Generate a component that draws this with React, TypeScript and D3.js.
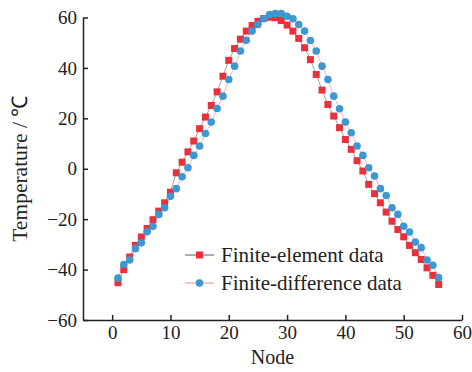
import * as d3 from 'd3';
import * as React from 'react';

const nodes = d3.range(1, 57);

const feData = [
  -45.2, -40, -35, -30.4, -27.1, -23.7, -20.2, -16.8, -13.5, -9.3,
  -1.6, 2.6, 6.7, 11, 15.9, 20.5, 25.1, 30.5, 36.7, 43,
  47.7, 51.4, 54.6, 56.8, 58.5, 59.6, 60.1, 59.9, 58.8, 57,
  54.6, 51.7, 48, 43.3, 37.4, 31.2, 25.5, 20.9, 16.3, 11.6,
  7.7, 3.2, -0.9, -6.2, -9.9, -13.5, -17.2, -20.8, -24.1, -27,
  -30.4, -33.3, -36, -39.3, -42.3, -45.9,
];

const fdData = [
  -43.4, -38, -36.2, -31.7, -29.4, -25, -22.8, -18.1, -15.5, -10.9,
  -7.9, -3.2, 0.4, 5.3, 9, 14, 18.5, 23.9, 28.8, 35.4,
  40.7, 46.7, 51, 54.6, 57.2, 59.5, 61.2, 61.6, 61.6, 60.5,
  59.5, 57.2, 54.6, 50.9, 46.7, 40.7, 35.4, 28.8, 23.8, 18.5,
  14.3, 9, 5.3, 0.4, -2.9, -7.9, -10.6, -15.5, -18.1, -22.8,
  -25.1, -29.1, -31.3, -36.2, -38.3, -43.2,
];

const xTicks = [0, 10, 20, 30, 40, 50, 60];
const yTicks = [-60, -40, -20, 0, 20, 40, 60];
const legendLabels = ['Finite-element data', 'Finite-difference data'];

const RED = '#e8313b';
const BLUE = '#3d97d0';
const FONT = '"Liberation Serif", "Times New Roman", serif';
const INK = '#222';

const App = () => {
  const ref = React.useRef<SVGSVGElement | null>(null);

  React.useEffect(() => {
    if (!ref.current) return;
    const svg = d3.select(ref.current);
    svg.selectAll('*').remove();

    const x = d3.scaleLinear().domain([-5, 60]).range([83, 462]);
    const y = d3.scaleLinear().domain([-60, 60]).range([320, 17.5]);

    // series lines
    const fe = nodes.map((n, i) => [n, feData[i]] as [number, number]);
    const fd = nodes.map((n, i) => [n, fdData[i]] as [number, number]);
    const line = d3
      .line<[number, number]>()
      .x((d) => x(d[0]))
      .y((d) => y(d[1]));

    svg.append('path').attr('d', line(fe)).attr('fill', 'none').attr('stroke', '#8a8a8a').attr('stroke-width', 0.8);
    svg.append('path').attr('d', line(fd)).attr('fill', 'none').attr('stroke', '#f2a3a3').attr('stroke-width', 0.8);

    svg
      .selectAll('.fe')
      .data(fe)
      .enter()
      .append('rect')
      .attr('class', 'fe')
      .attr('x', (d) => x(d[0]) - 3.5)
      .attr('y', (d) => y(d[1]) - 3.5)
      .attr('width', 7)
      .attr('height', 7)
      .attr('fill', RED);

    svg
      .selectAll('.fd')
      .data(fd)
      .enter()
      .append('circle')
      .attr('class', 'fd')
      .attr('cx', (d) => x(d[0]))
      .attr('cy', (d) => y(d[1]))
      .attr('r', 3.8)
      .attr('fill', BLUE);

    // axes
    const xAxis = d3.axisBottom(x).tickValues(xTicks).tickSize(-5).tickSizeOuter(0).tickPadding(6).tickFormat(d3.format('d'));
    const gx = svg.append('g').attr('transform', `translate(0,${y(-60)})`).call(xAxis);
    gx.select('.domain').attr('stroke', INK).attr('stroke-width', 1.5);
    gx.selectAll('.tick line').attr('stroke', INK).attr('stroke-width', 1.5);
    gx.selectAll('.tick text').attr('fill', INK).style('font-family', FONT).style('font-size', '19px');

    const yAxis = d3.axisLeft(y).tickValues(yTicks).tickSize(-5).tickSizeOuter(0).tickPadding(6).tickFormat(d3.format('d'));
    const gy = svg.append('g').attr('transform', `translate(${x(-5)},0)`).call(yAxis);
    gy.select('.domain').attr('stroke', INK).attr('stroke-width', 1.5);
    gy.selectAll('.tick line').attr('stroke', INK).attr('stroke-width', 1.5);
    gy.selectAll('.tick text').attr('fill', INK).style('font-family', FONT).style('font-size', '19px');

    svg
      .append('text')
      .attr('x', (x(-5) + x(60)) / 2)
      .attr('y', 364)
      .attr('text-anchor', 'middle')
      .attr('fill', INK)
      .style('font-family', FONT)
      .style('font-size', '20px')
      .text('Node');

    svg
      .append('text')
      .attr('transform', `translate(27,${(y(60) + y(-60)) / 2}) rotate(-90)`)
      .attr('text-anchor', 'middle')
      .attr('fill', INK)
      .style('font-family', FONT)
      .style('font-size', '21.5px')
      .text('Temperature / ℃');

    // legend
    legendLabels.forEach((label, i) => {
      const ly = 255 + i * 28;
      const g = svg.append('g');
      g.append('line')
        .attr('x1', 185)
        .attr('x2', 214)
        .attr('y1', ly)
        .attr('y2', ly)
        .attr('stroke', i === 0 ? '#777' : '#f2a3a3')
        .attr('stroke-width', 1.2);
      if (i === 0) {
        g.append('rect').attr('x', 196).attr('y', ly - 3.5).attr('width', 7).attr('height', 7).attr('fill', RED);
      } else {
        g.append('circle').attr('cx', 199.5).attr('cy', ly).attr('r', 3.8).attr('fill', BLUE);
      }
      g.append('text')
        .attr('x', 221)
        .attr('y', ly + 7)
        .attr('fill', INK)
        .style('font-family', FONT)
        .style('font-size', '21px')
        .text(label);
    });
  }, []);

  return <svg ref={ref} width={472} height={372} style={{ position: 'absolute', left: 0, top: 0, background: '#fff' }} />;
};

export default App;
